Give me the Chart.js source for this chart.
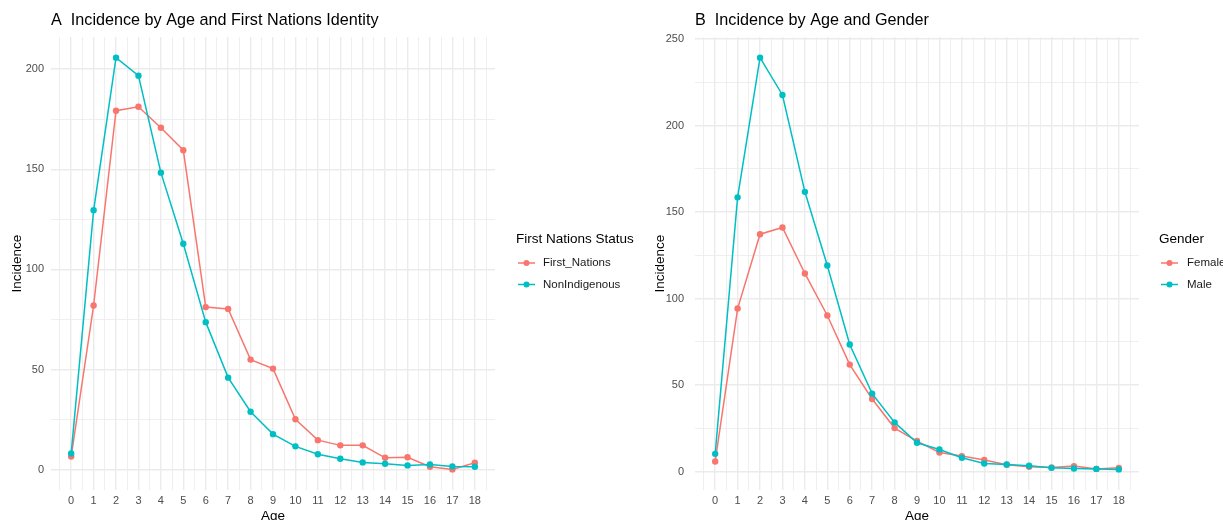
<!DOCTYPE html>
<html>
<head>
<meta charset="utf-8">
<script src="https://cdn.jsdelivr.net/npm/chart.js@4.4.0/dist/chart.umd.min.js"></script>
<style>
    body { margin: 0; background: #fff; width: 1223px; height: 520px; overflow: hidden; position: relative; }
    #chart_a { position: absolute; left: 0; top: 0; }
    #chart_b { position: absolute; left: 640px; top: 0; }
</style>
</head>
<body>
<canvas id="chart_a" width="640" height="520"></canvas>
<canvas id="chart_b" width="583" height="520"></canvas>
<script>

// DATA

var ages = [0,1,2,3,4,5,6,7,8,9,10,11,12,13,14,15,16,17,18];

var first_nations  = [6.6,82,179.2,181.2,170.7,159.5,81.2,80.3,55,50.5,25.2,14.8,12.2,12.2,6,6.3,1.5,0.2,3.5];
var non_indigenous = [8.2,129.5,205.7,196.7,148.3,112.8,73.7,46,29,17.8,11.7,7.8,5.5,3.7,3,2.2,2.7,1.7,1.5];

var female = [5.8,94.2,137.2,141.1,114.5,90.2,61.8,41.9,25.1,17.6,11,8.9,6.6,3.9,2.7,2.3,3.1,1.5,2.1];
var male   = [10.2,158.5,239.3,217.7,161.7,119.1,73.4,45,28.4,16.6,12.7,7.9,4.6,4,3.3,2.1,1.7,1.5,1.2];

var yticks_a = [0,50,100,150,200];
var yticks_b = [0,50,100,150,200,250];

var COL_RED = '#F8766D';
var COL_TEAL = '#00BFC4';
var FONT = '"Liberation Sans", Arial, Helvetica, sans-serif';

// ggplot style legend (line + dot)
var ggLegend = {
    id: 'ggLegend',
    afterDraw(chart, args, opts) {
        let ctx = chart.ctx;
        let a = chart.chartArea;
        let x = a.right + opts.dx;
        let y = 239;
        ctx.save();
        ctx.textAlign = 'left';
        ctx.textBaseline = 'middle';
        ctx.fillStyle = '#000';
        ctx.font = '13.5px ' + FONT;
        ctx.fillText(opts.title, x, y);
        chart.data.datasets.forEach((ds, i) => {
            let yy = 263 + i * 21.5;
            ctx.strokeStyle = ds.borderColor;
            ctx.lineWidth = 1.5;
            ctx.beginPath();
            ctx.moveTo(x + 2, yy);
            ctx.lineTo(x + 19, yy);
            ctx.stroke();
            ctx.fillStyle = ds.borderColor;
            ctx.beginPath();
            ctx.arc(x + 10.5, yy, 3, 0, Math.PI * 2);
            ctx.fill();
            ctx.fillStyle = '#1a1a1a';
            ctx.font = '11.5px ' + FONT;
            ctx.fillText(ds.label, x + opts.tx, yy);
        });
        ctx.restore();
    }
};

function expand(vals, f) {
    let lo = Math.min(...vals), hi = Math.max(...vals);
    let e = (hi - lo) * f;
    return [lo - e, hi + e];
}

function drawChart(id, title, legendTitle, sets, yticks, axisW, yTitleOff, lg) {

    let all = [];
    sets.forEach(s => { all = all.concat(s.data); });
    let yr = expand(all, 0.05);
    let xr = expand(ages, 0.05);

    let yminor = [];
    for (let i = 0; i < yticks.length; i++) {
        let m = yticks[i] + (yticks[1] - yticks[0]) / 2;
        if (m < yr[1]) yminor.push(m);
    }
    let xminor = [ages[0] - 0.5].concat(ages.map(v => v + 0.5));

    new Chart(document.getElementById(id).getContext('2d'), {
        type: 'line',
        data: {
            labels: ages,
            datasets: sets.map((s, i) => ({
                label: s.label,
                data: s.data,
                borderColor: s.color,
                backgroundColor: s.color,
                borderWidth: 1.5,
                pointRadius: 3.2,
                pointHoverRadius: 3.2,
                pointBorderWidth: 0,
                tension: 0,
                fill: false,
                order: sets.length - i
            }))
        },
        options: {
            responsive: false,
            animation: false,
            layout: { padding: { top: 0, left: 0, right: lg.right, bottom: 0 } },
            plugins: {
                legend: { display: false },
                tooltip: { enabled: false },
                title: {
                    display: true,
                    text: title,
                    align: 'start',
                    fullSize: false,
                    color: '#000',
                    font: { family: FONT, size: 16.2, weight: 'normal' },
                    padding: { top: 11.3, bottom: 6.3 }
                },
                ggLegend: { title: legendTitle, dx: lg.dx, tx: lg.tx }
            },
            scales: {
                x: {
                    type: 'linear',
                    min: xr[0],
                    max: xr[1],
                    afterBuildTicks: (sc) => {
                        sc.ticks = ages.concat(xminor).sort((p, q) => p - q).map(v => ({ value: v }));
                    },
                    afterFit: (sc) => { sc.height = 30; },
                    grid: {
                        drawTicks: false,
                        color: '#ebebeb',
                        lineWidth: (c) => (c.tick && Number.isInteger(c.tick.value)) ? 1.4 : 0.8
                    },
                    border: { display: false },
                    ticks: {
                        autoSkip: false,
                        maxRotation: 0,
                        minRotation: 0,
                        padding: 4,
                        color: '#4d4d4d',
                        font: { family: FONT, size: 11 },
                        callback: (v) => Number.isInteger(v) ? String(v) : ''
                    },
                    title: {
                        display: true,
                        text: 'Age',
                        color: '#000',
                        font: { family: FONT, size: 13.5 },
                        padding: { top: 0, bottom: -4 }
                    }
                },
                y: {
                    min: yr[0],
                    max: yr[1],
                    afterBuildTicks: (sc) => {
                        sc.ticks = yticks.concat(yminor).sort((p, q) => p - q).map(v => ({ value: v }));
                    },
                    afterFit: (sc) => { sc.width = axisW; },
                    grid: {
                        drawTicks: false,
                        color: '#ebebeb',
                        lineWidth: (c) => (c.tick && yticks.indexOf(c.tick.value) >= 0) ? 1.4 : 0.8
                    },
                    border: { display: false },
                    ticks: {
                        padding: axisW - 44,
                        color: '#4d4d4d',
                        font: { family: FONT, size: 11 },
                        callback: (v) => yticks.indexOf(v) >= 0 ? String(v) : ''
                    },
                    title: {
                        display: true,
                        text: 'Incidence',
                        color: '#000',
                        font: { family: FONT, size: 13.5 },
                        padding: { top: yTitleOff - 8.1, bottom: 0 }
                    }
                }
            }
        },
        plugins: [ggLegend]
    });
}

drawChart('chart_a', 'A  Incidence by Age and First Nations Identity', 'First Nations Status', [
    { label: 'First_Nations', data: first_nations, color: COL_RED },
    { label: 'NonIndigenous', data: non_indigenous, color: COL_TEAL }
], yticks_a, 51, 17, { right: 145, dx: 21, tx: 27 });

drawChart('chart_b', 'B  Incidence by Age and Gender', 'Gender', [
    { label: 'Female', data: female, color: COL_RED },
    { label: 'Male', data: male, color: COL_TEAL }
], yticks_b, 55, 20, { right: 84, dx: 20, tx: 28 });

</script>
</body>
</html>
